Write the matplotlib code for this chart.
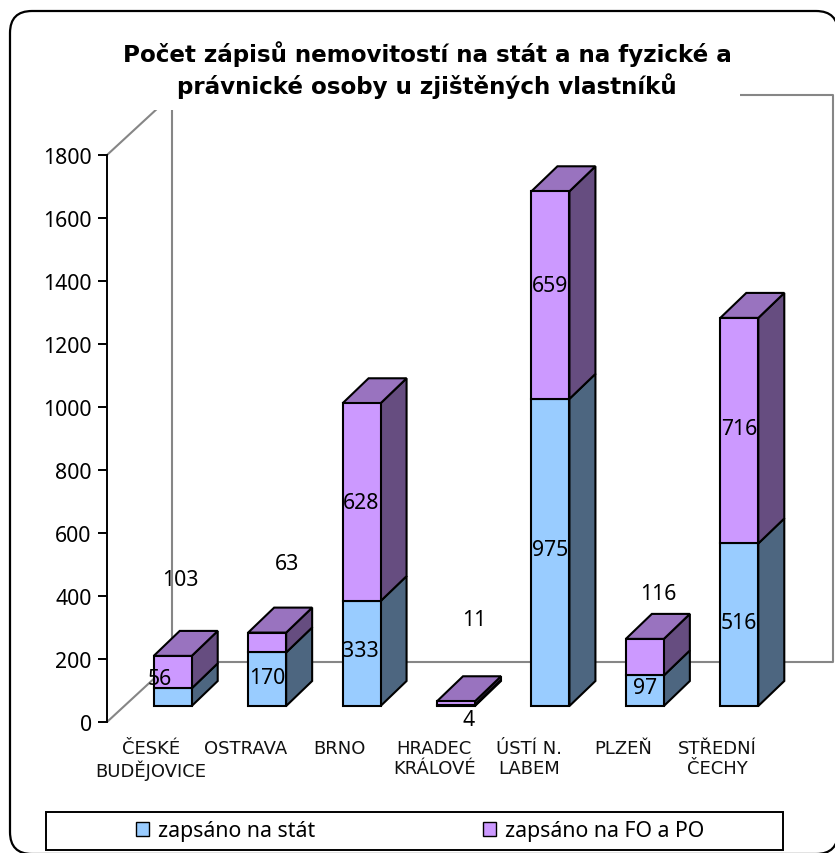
import matplotlib
matplotlib.use("Agg")
import matplotlib.pyplot as plt
from matplotlib.patches import Polygon, Rectangle, FancyBboxPatch, Patch
from matplotlib.transforms import Affine2D

categories = ["ČESKÉ\nBUDĚJOVICE", "OSTRAVA", "BRNO", "HRADEC\nKRÁLOVÉ", "ÚSTÍ N.\nLABEM", "PLZEŇ", "STŘEDNÍ\nČECHY"]
zapsano_na_stat = [56, 170, 333, 4, 975, 97, 516]
zapsano_na_fo_po = [103, 63, 628, 11, 659, 116, 716]
y_ticks = [0, 200, 400, 600, 800, 1000, 1200, 1400, 1600, 1800]
title = "Počet zápisů nemovitostí na stát a na fyzické a\nprávnické osoby u zjištěných vlastníků"
series_names = ["zapsáno na stát", "zapsáno na FO a PO"]

# label displacement in pixels (right, up) from the front-face centre of each segment
stat_offsets = [(-12, 20), (1, 3), (-1, 4), (13, -13), (0, 4), (1, 4), (0, 3)]
fo_offsets = [(8, 94), (20, 80), (0, 1), (19, 85), (0, 11), (14, 65), (0, 3)]

W, H = 835, 854
BLUE = ("#99CCFF", "#4D6680")
PURPLE = ("#CC99FF", "#664D80", "#9973BF")
GREY = "#868686"
LW = 1.5
BODY = "Noto Sans"

fig = plt.figure(figsize=(W / 100, H / 100), dpi=100)
pix = Affine2D().scale(1, -1).translate(0, H)  # figure pixels, y downwards

fig.add_artist(FancyBboxPatch((32, 34), 784, 799, boxstyle="round,pad=22,rounding_size=22",
                              transform=pix, fc="white", ec="black", lw=1.6, zorder=-1))

AX_L, AX_R, AX_T, AX_B = 107, 768, 156, 723
ax = fig.add_axes([AX_L / W, 1 - AX_B / H, (AX_R - AX_L) / W, (AX_B - AX_T) / H])
ax.set_xlim(-0.5, 6.5)
ax.set_ylim(0, 1800)
ax.patch.set_alpha(0)
PX_X = (AX_R - AX_L) / 7
PX_Y = (AX_B - AX_T) / 1800


def off(x, y, dx, dy):
    """Data point moved (dx right, dy up) pixels into the chart's depth."""
    return (x + dx / PX_X, y + dy / PX_Y)


# Back walls and floor
WALL_DX, WALL_DY = 65, 60
wall_kw = dict(color=GREY, lw=1.5, clip_on=False, zorder=1, solid_capstyle="butt")
ax.plot(*zip(off(-0.5, 0, 0, 0), off(-0.5, 0, WALL_DX, WALL_DY), off(6.5, 0, WALL_DX, WALL_DY),
             off(6.5, 1800, WALL_DX, WALL_DY), off(-0.5, 1800, WALL_DX, WALL_DY),
             off(-0.5, 0, WALL_DX, WALL_DY)), **wall_kw)
ax.plot(*zip(off(-0.5, 1800, 0, 0), off(-0.5, 1800, WALL_DX, WALL_DY)), **wall_kw)

# Mask behind the title
ax.add_artist(Rectangle((100, 16), 640, 95, transform=pix, fc="white", ec="none", zorder=2, clip_on=False))

# Bars
BAR_W = 38 / PX_X
FX, FY = 18.5, 16
DX, DY = 26, 25


def segment(i, bottom, value, colors, top_face):
    l, r = i - BAR_W / 2, i + BAR_W / 2
    t = bottom + value
    kw = dict(ec="black", lw=LW, joinstyle="miter", clip_on=False, zorder=4)
    ax.add_patch(Polygon([off(r, bottom, FX, FY), off(r, bottom, FX + DX, FY + DY),
                          off(r, t, FX + DX, FY + DY), off(r, t, FX, FY)], fc=colors[1], **kw))
    if top_face:
        ax.add_patch(Polygon([off(l, t, FX, FY), off(r, t, FX, FY),
                              off(r, t, FX + DX, FY + DY), off(l, t, FX + DX, FY + DY)], fc=colors[2], **kw))
    ax.add_patch(Polygon([off(l, bottom, FX, FY), off(r, bottom, FX, FY),
                          off(r, t, FX, FY), off(l, t, FX, FY)], fc=colors[0], **kw))


def value_label(i, bottom, value, shift):
    x, y = off(i, bottom + value / 2, FX, FY)
    ax.annotate(str(value), (x, y), xytext=(shift[0] - 0.5, shift[1] - 1), textcoords="offset pixels",
                ha="center", va="center", fontsize=15.3, family=BODY, color="black", zorder=6,
                annotation_clip=False)


for i, (a, b) in enumerate(zip(zapsano_na_stat, zapsano_na_fo_po)):
    segment(i, 0, a, BLUE, False)
    segment(i, a, b, PURPLE, True)
for i, (a, b) in enumerate(zip(zapsano_na_stat, zapsano_na_fo_po)):
    value_label(i, 0, a, stat_offsets[i])
    value_label(i, a, b, fo_offsets[i])

# Axes
for s in ("top", "right", "bottom"):
    ax.spines[s].set_visible(False)
ax.spines["left"].set_linewidth(1.4)
ax.spines["left"].set_zorder(3)
ax.set_yticks(y_ticks)
ax.tick_params(axis="y", length=6.5, width=1.4, pad=4.5, labelsize=15.3)
for t in ax.get_yticklabels():
    t.set_family(BODY)
ax.set_xticks([i - 0.034 for i in range(len(categories))])
ax.set_xticklabels(categories, fontsize=13, family="DejaVu Sans", linespacing=1.1, color="#111111")
ax.tick_params(axis="x", length=0, pad=12.5)

# Title
fig.text(427 / W, 1 - 70.5 / H, title, ha="center", va="center", fontsize=16.6, fontweight="bold",
         family="DejaVu Sans", linespacing=1.3, zorder=10)

# Legend
fig.add_artist(Rectangle((46, 813), 737, 38, transform=pix, fc="white", ec="black", lw=1.4, zorder=5))
handles = [Patch(fc=BLUE[0], ec="black", lw=1), Patch(fc=PURPLE[0], ec="black", lw=1)]
fig.legend(handles, series_names, ncol=2, frameon=False, loc="center", bbox_to_anchor=(420 / W, 1 - 832 / H),
           prop={"family": BODY, "size": 15.3}, handlelength=0.62, handleheight=0.62, handletextpad=0.4,
           columnspacing=7.9, borderpad=0).set_zorder(12)

fig.savefig("out.png", dpi=100)
